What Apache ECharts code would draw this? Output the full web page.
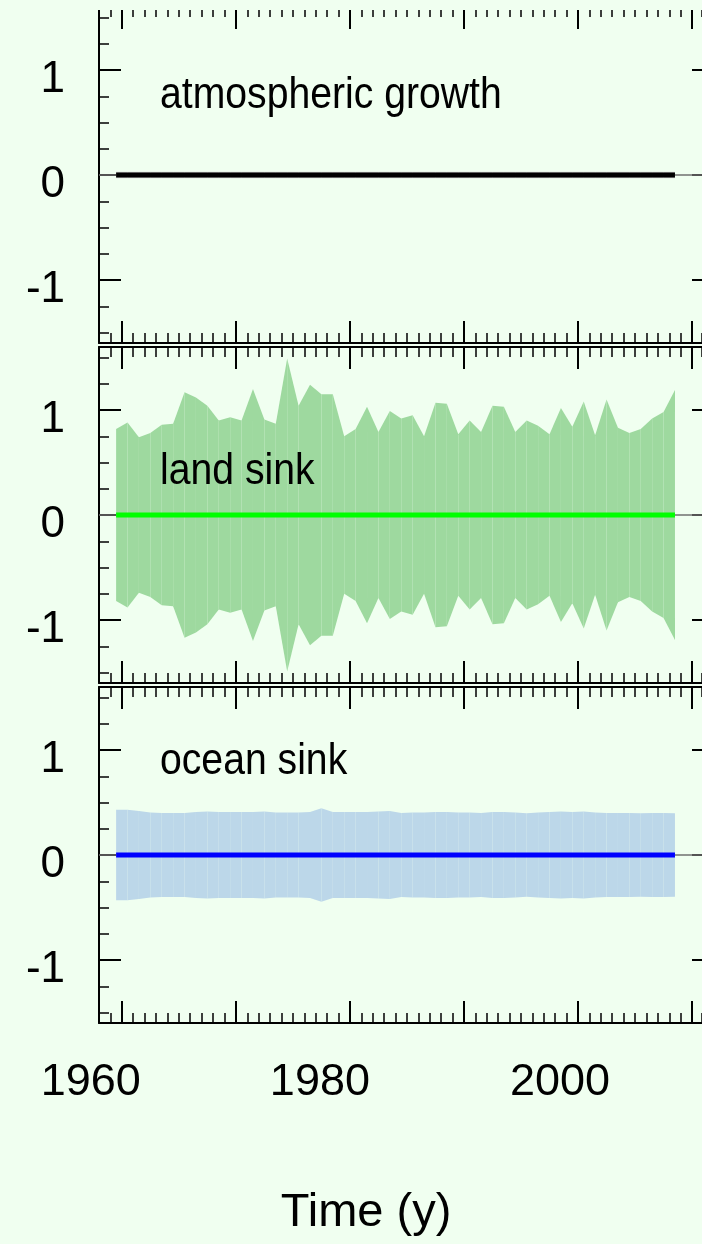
<!DOCTYPE html>
<html>
<head>
<meta charset="utf-8">
<script src="https://cdn.jsdelivr.net/npm/echarts@6/dist/echarts.min.js"></script>
<style>
html,body{margin:0;padding:0;background:#F0FFF0;}
#chart{width:702px;height:1244px;}
</style>
</head>
<body>
<div id="chart"></div>
<script>
// ---- data ----
const years = [1959,1960,1961,1962,1963,1964,1965,1966,1967,1968,1969,1970,1971,1972,1973,1974,1975,1976,1977,1978,1979,1980,1981,1982,1983,1984,1985,1986,1987,1988,1989,1990,1991,1992,1993,1994,1995,1996,1997,1998,1999,2000,2001,2002,2003,2004,2005,2006,2007,2008];
const atmMean = [0,0,0,0,0,0,0,0,0,0,0,0,0,0,0,0,0,0,0,0,0,0,0,0,0,0,0,0,0,0,0,0,0,0,0,0,0,0,0,0,0,0,0,0,0,0,0,0,0,0];
const atmUnc = [0.03,0.03,0.03,0.03,0.03,0.03,0.03,0.03,0.03,0.03,0.03,0.03,0.03,0.03,0.03,0.03,0.03,0.03,0.03,0.03,0.03,0.03,0.03,0.03,0.03,0.03,0.03,0.03,0.03,0.03,0.03,0.03,0.03,0.03,0.03,0.03,0.03,0.03,0.03,0.03,0.03,0.03,0.03,0.03,0.03,0.03,0.03,0.03,0.03,0.03];
const landMean = [0,0,0,0,0,0,0,0,0,0,0,0,0,0,0,0,0,0,0,0,0,0,0,0,0,0,0,0,0,0,0,0,0,0,0,0,0,0,0,0,0,0,0,0,0,0,0,0,0,0];
const landUnc = [0.82,0.88,0.74,0.78,0.86,0.87,1.17,1.12,1.04,0.90,0.93,0.90,1.20,0.91,0.87,1.49,1.04,1.24,1.15,1.15,0.75,0.82,1.03,0.79,0.99,0.92,0.95,0.75,1.07,1.06,0.77,0.90,0.79,1.04,1.03,0.79,0.90,0.85,0.77,1.02,0.84,1.08,0.76,1.10,0.83,0.78,0.82,0.92,0.98,1.19];
const oceanMean = [0,0,0,0,0,0,0,0,0,0,0,0,0,0,0,0,0,0,0,0,0,0,0,0,0,0,0,0,0,0,0,0,0,0,0,0,0,0,0,0,0,0,0,0,0,0,0,0,0,0];
const oceanUnc = [0.43,0.43,0.42,0.405,0.40,0.40,0.40,0.41,0.415,0.41,0.41,0.41,0.41,0.415,0.405,0.405,0.405,0.41,0.445,0.41,0.41,0.41,0.41,0.415,0.42,0.40,0.405,0.405,0.41,0.41,0.405,0.405,0.40,0.41,0.41,0.405,0.397,0.405,0.41,0.415,0.41,0.415,0.405,0.40,0.40,0.40,0.397,0.40,0.40,0.397];
const panelNames = ['atmospheric growth','land sink','ocean sink'];
const yTickMajor = [-1,0,1];
const yTickMinor = [-1.5,-1.25,-0.75,-0.5,-0.25,0.25,0.5,0.75,1.25,1.5];
const xTickMajor = [1960,1970,1980,1990,2000,2010];
const xTickLabels = [1960,1980,2000];

// ---- layout ----
const BG = '#F0FFF0';
const FONT = 'Liberation Sans';
const X_MIN = 1958, X_MAX = 2010.87;
const Y_MIN = -1.6, Y_MAX = 1.6;
const Y_LABEL_SHIFT = 0.09;
// in the reference the year labels sit to the left of their ticks (pixels)
const X_LABEL_NUDGE = {1960: 31, 1980: 30, 2000: 18};
const panels = [
  {top:7, mean:atmMean, unc:atmUnc, band:'#c4c4c4', line:'#000000', lw:5},
  {top:347, mean:landMean, unc:landUnc, band:'#9ed99f', line:'#00ff00', lw:5},
  {top:687, mean:oceanMean, unc:oceanUnc, band:'#bcd7e9', line:'#0000ff', lw:5}
];
const GH = 336, GL = 99, GW = 603;

const xRich = {};
xTickLabels.forEach(v => {
  xRich['y' + v] = {fontSize:45, fontFamily:FONT, color:'#000', padding:[0, 2 * X_LABEL_NUDGE[v], 0, 0]};
});

const grid = [], xAxis = [], yAxis = [], series = [];
panels.forEach((p, g) => {
  grid.push({left:GL, top:p.top, width:GW, height:GH, containLabel:false});
  const base = {type:'value', gridIndex:g, min:X_MIN, max:X_MAX, splitLine:{show:false}};
  const lineS = {lineStyle:{color:'#000', width:2}, onZero:false};
  const xi = xAxis.length, yi = yAxis.length;
  // bottom minor
  xAxis.push(Object.assign({}, base, {position:'bottom', interval:1,
    axisLine:Object.assign({show:true}, lineS),
    axisTick:{show:true, inside:true, length:10, lineStyle:{color:'#000', width:1.5}},
    axisLabel:{show:false}}));
  // bottom major (+ year labels on the last panel)
  xAxis.push(Object.assign({}, base, {position:'bottom',
    axisLine:{show:false, onZero:false},
    axisTick:{show:true, inside:true, length:22, customValues:xTickMajor, lineStyle:{color:'#000', width:2}},
    axisLabel:{show:g === 2, customValues:xTickLabels, margin:37, fontSize:45, color:'#000', fontFamily:FONT,
      formatter: v => '{y' + v + '|' + v + '}', rich:xRich}}));
  // top minor
  xAxis.push(Object.assign({}, base, {position:'top', interval:1,
    axisLine:Object.assign({show:g!==0}, lineS),
    axisTick:{show:true, inside:true, length:10, lineStyle:{color:'#000', width:1.5}},
    axisLabel:{show:false}}));
  // top major
  xAxis.push(Object.assign({}, base, {position:'top',
    axisLine:{show:false, onZero:false},
    axisTick:{show:true, inside:true, length:22, customValues:xTickMajor, lineStyle:{color:'#000', width:2}},
    axisLabel:{show:false}}));

  const ybase = {type:'value', gridIndex:g, min:Y_MIN, max:Y_MAX, splitLine:{show:false}};
  // left minor
  yAxis.push(Object.assign({}, ybase, {position:'left',
    axisLine:{show:true, onZero:false, lineStyle:{color:'#000', width:2}},
    axisTick:{show:true, inside:true, length:10, customValues:yTickMinor, lineStyle:{color:'#000', width:1.5}},
    axisLabel:{show:false}}));
  // left major
  yAxis.push(Object.assign({}, ybase, {position:'left',
    axisLine:{show:false, onZero:false},
    axisTick:{show:true, inside:true, length:22, customValues:yTickMajor, lineStyle:{color:'#000', width:2}},
    axisLabel:{show:false}}));
  // left labels (sit slightly below their ticks in the reference)
  yAxis.push({type:'value', gridIndex:g, position:'left', min:Y_MIN + Y_LABEL_SHIFT, max:Y_MAX + Y_LABEL_SHIFT,
    splitLine:{show:false}, axisLine:{show:false, onZero:false}, axisTick:{show:false},
    axisLabel:{show:true, customValues:yTickMajor, margin:34, fontSize:44, color:'#000', fontFamily:FONT,
      formatter: v => String(v)}});
  // right major
  yAxis.push(Object.assign({}, ybase, {position:'right',
    axisLine:{show:false, onZero:false},
    axisTick:{show:true, inside:true, length:10, customValues:yTickMajor, lineStyle:{color:'#000', width:2}},
    axisLabel:{show:false}}));

  const bandData = [];
  for (let i = 0; i < years.length - 1; i++) {
    bandData.push([years[i] + 0.5, p.mean[i] + p.unc[i], p.mean[i] - p.unc[i],
                   years[i+1] + 0.5, p.mean[i+1] + p.unc[i+1], p.mean[i+1] - p.unc[i+1]]);
  }
  const bandColor = p.band;
  series.push({
    type:'custom', xAxisIndex:xi, yAxisIndex:yi, silent:true, z:2,
    data: bandData,
    renderItem: function(params, api) {
      const a = api.coord([api.value(0), api.value(1)]);
      const b = api.coord([api.value(3), api.value(4)]);
      const c = api.coord([api.value(3), api.value(5)]);
      const d = api.coord([api.value(0), api.value(2)]);
      return {type:'polygon', shape:{points:[a,b,c,d]}, style:{fill:bandColor, stroke:null}};
    },
    markLine:{silent:true, z:1, symbol:['none','none'], label:{show:false},
      lineStyle:{color:'#707070', width:1.5, type:'solid'}, data:[{yAxis:0}]}
  });
  series.push({
    type:'line', xAxisIndex:xi, yAxisIndex:yi, silent:true, z:10,
    showSymbol:false, symbol:'none',
    data: years.map((y, i) => [y + 0.5, p.mean[i]]),
    lineStyle:{color:p.line, width:p.lw}
  });
});

const graphic = [
  {type:'rect', left:0, top:0, shape:{width:702, height:10}, style:{fill:BG}, z:100},
  {type:'text', x:160, y:96, scaleX:0.89, z:100,
    style:{text:panelNames[0], fontSize:44, fontFamily:FONT, fill:'#000', textAlign:'left', textVerticalAlign:'middle'}},
  {type:'text', x:160, y:472, scaleX:0.89, z:100,
    style:{text:panelNames[1], fontSize:44, fontFamily:FONT, fill:'#000', textAlign:'left', textVerticalAlign:'middle'}},
  {type:'text', x:160, y:762, scaleX:0.89, z:100,
    style:{text:panelNames[2], fontSize:44, fontFamily:FONT, fill:'#000', textAlign:'left', textVerticalAlign:'middle'}},
  {type:'text', x:366, y:1213, z:100,
    style:{text:'Time (y)', fontSize:47, fontFamily:FONT, fill:'#000', textAlign:'center', textVerticalAlign:'middle'}}
];

const chart = echarts.init(document.getElementById('chart'), null, {renderer:'canvas'});
chart.setOption({
  backgroundColor: BG,
  animation: false,
  grid, xAxis, yAxis, series, graphic
});
</script>
</body>
</html>
